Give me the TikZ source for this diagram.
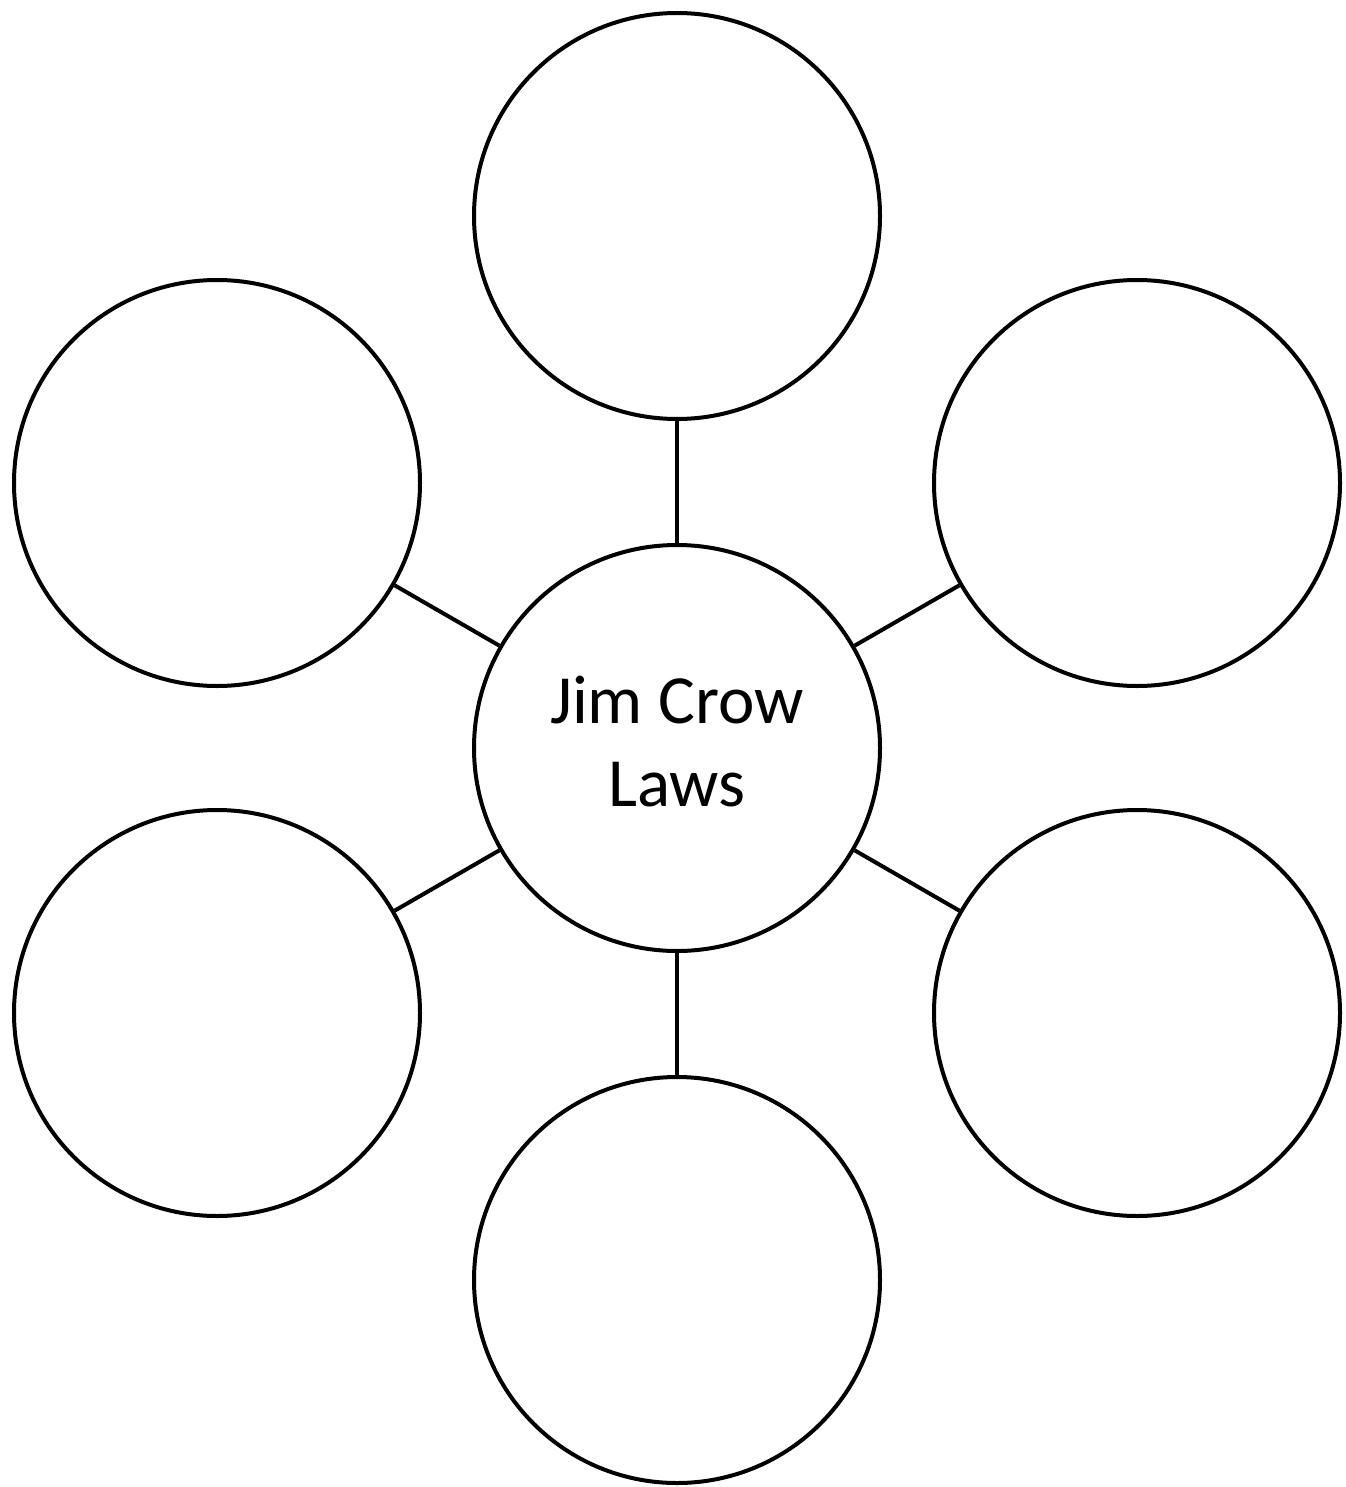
\documentclass[tikz,border=0pt]{standalone}
\usepackage{fontspec}
\setmainfont{Carlito}
\begin{document}
\begin{tikzpicture}[x=0.5pt,y=-0.5pt,
  bubble/.style={circle,draw=black,line width=2pt,minimum size=203pt,inner sep=0pt,fill=white},
  link/.style={draw=black,line width=2pt}]
\useasboundingbox[fill=white] (0,0) rectangle (1345,1487);
\node[bubble] (c) at (677,748) {};
\node[align=center,font=\fontsize{34.5pt}{41.5pt}\selectfont] (ct) at (677,742) {Jim Crow\\Laws};
\node[bubble] (t) at (677,216) {};
\node[bubble] (b) at (677,1280) {};
\node[bubble] (lu) at (217,483) {};
\node[bubble] (ru) at (1137,483) {};
\node[bubble] (ll) at (217,1013) {};
\node[bubble] (rl) at (1137,1013) {};
\foreach \n in {t,b,lu,ru,ll,rl} {\draw[link] (c) -- (\n);}
\end{tikzpicture}
\end{document}
